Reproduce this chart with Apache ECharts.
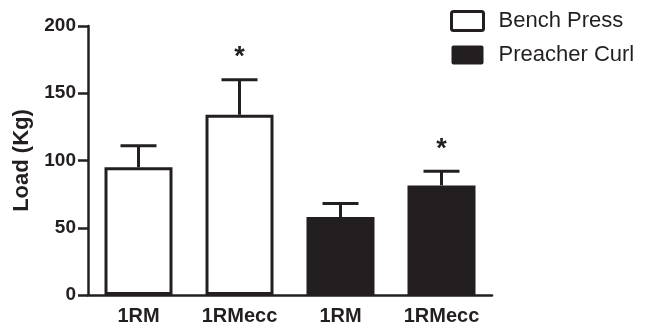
<!DOCTYPE html>
<html>
<head>
<meta charset="utf-8">
<script src="https://cdn.jsdelivr.net/npm/echarts@6/dist/echarts.min.js"></script>
<style>html,body{margin:0;padding:0;background:#fff}#c{width:648px;height:326px}</style>
</head>
<body>
<div id="c"></div>
<script>
var categories = ['1RM', '1RMecc', '1RM', '1RMecc'];
var benchPress = [95, 134, null, null];
var preacherCurl = [null, null, 58, 81.5];
var errorUpper = [111, 160, 68, 92];
var significant = [false, true, false, true];
var yTicks = [0, 50, 100, 150, 200];

var INK = '#231f20';
var FONT = '"Liberation Sans", Arial, Helvetica, sans-serif';

var errData = categories.map(function (c, i) {
  var v = benchPress[i] != null ? benchPress[i] : preacherCurl[i];
  return [i, v, errorUpper[i], significant[i] ? 1 : 0];
});

var legendIcon = 'path://M2,0 L30,0 Q32,0 32,2 L32,17 Q32,19 30,19 L2,19 Q0,19 0,17 L0,2 Q0,0 2,0 Z';

var chart = echarts.init(document.getElementById('c'), null, {renderer: 'canvas'});
chart.setOption({
  animation: false,
  backgroundColor: '#fff',
  grid: {left: 88, right: 156, top: 26, bottom: 31, containLabel: false},
  legend: {
    orient: 'vertical',
    left: 445,
    top: 5,
    itemWidth: 32,
    itemHeight: 19,
    itemGap: 12,
    icon: legendIcon,
    textStyle: {fontFamily: FONT, fontSize: 22, color: INK, padding: [0, 0, 0, 10]},
    data: [
      {name: 'Bench Press', itemStyle: {color: '#fff', borderColor: INK, borderWidth: 3}},
      {name: 'Preacher Curl', itemStyle: {color: INK, borderColor: INK, borderWidth: 0}}
    ]
  },
  xAxis: {
    type: 'category',
    data: categories,
    axisLine: {lineStyle: {color: INK, width: 2.5}},
    axisTick: {alignWithLabel: true, length: 10, lineStyle: {color: INK, width: 2.5}},
    axisLabel: {fontFamily: FONT, fontWeight: 'bold', fontSize: 20, color: INK, margin: 11}
  },
  yAxis: {
    type: 'value',
    min: yTicks[0],
    max: yTicks[yTicks.length - 1],
    interval: yTicks[1] - yTicks[0],
    name: 'Load (Kg)',
    nameLocation: 'middle',
    nameGap: 53,
    nameTextStyle: {fontFamily: FONT, fontWeight: 'bold', fontSize: 22, color: INK},
    splitLine: {show: false},
    axisLine: {show: true, lineStyle: {color: INK, width: 2.5}},
    axisTick: {show: true, length: 10, lineStyle: {color: INK, width: 2.5}},
    axisLabel: {fontFamily: FONT, fontWeight: 'bold', fontSize: 19, color: INK, margin: 12}
  },
  series: [
    {
      name: 'Bench Press', type: 'bar', data: benchPress, barWidth: 68, barGap: '-100%',
      itemStyle: {color: '#fff', borderColor: INK, borderWidth: 3}, z: 2
    },
    {
      name: 'Preacher Curl', type: 'bar', data: preacherCurl, barWidth: 68, barGap: '-100%',
      itemStyle: {color: INK, borderColor: INK, borderWidth: 3}, z: 2
    },
    {
      name: 'err', type: 'custom', data: errData, z: 1,
      renderItem: function (params, api) {
        var top = api.coord([api.value(0), api.value(1)]);
        var cap = api.coord([api.value(0), api.value(2)]);
        var half = 18;
        var children = [
          {type: 'line', shape: {x1: top[0], y1: top[1], x2: cap[0], y2: cap[1]}, style: {stroke: INK, lineWidth: 3}},
          {type: 'line', shape: {x1: cap[0] - half, y1: cap[1], x2: cap[0] + half, y2: cap[1]}, style: {stroke: INK, lineWidth: 3}}
        ];
        if (api.value(3)) {
          children.push({type: 'text', style: {text: '*', x: cap[0], y: cap[1] - 22, align: 'center', verticalAlign: 'middle', font: 'bold 27px ' + FONT, fill: INK}});
        }
        return {type: 'group', children: children};
      }
    }
  ]
});
</script>
</body>
</html>
